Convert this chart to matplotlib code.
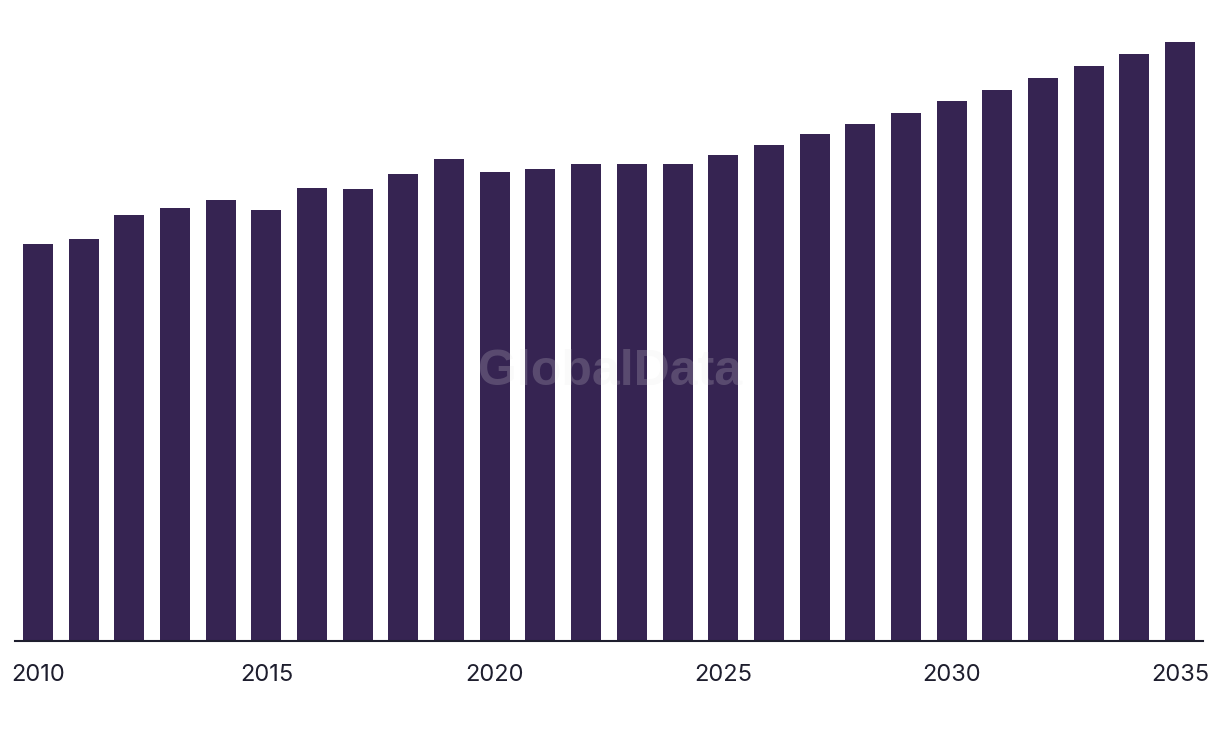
import matplotlib
matplotlib.use("Agg")
import matplotlib.pyplot as plt
import numpy as np

# values (arbitrary units, no y axis shown)
years = list(range(2010, 2036))
values = [397, 402, 426, 433, 441, 431, 453, 452, 467, 482, 469, 472, 477,
          477, 477, 486, 496, 507, 517, 528, 540, 551, 563, 575, 587, 599]
tick_years = [2010, 2015, 2020, 2025, 2030, 2035]

BAR_COLOR = "#362452"
TEXT_COLOR = "#1e1e2e"

fig = plt.figure(figsize=(12.2, 7.38), dpi=100)
ax = fig.add_axes([15 / 1220, 1 - 641 / 738, 1188 / 1220, 611 / 738])

ax.bar(years, values, width=0.657, color=BAR_COLOR, zorder=2)

ax.set_xlim(2010 - 0.5035, 2035 + 0.5035)
ax.set_ylim(0, 611)

for side in ["top", "right", "left"]:
    ax.spines[side].set_visible(False)
ax.spines["bottom"].set_color(TEXT_COLOR)
ax.spines["bottom"].set_linewidth(1.5)
ax.spines["bottom"].set_zorder(3)

ax.set_yticks([])
ax.set_xticks(tick_years)
ax.set_xticklabels([str(y) for y in tick_years], fontsize=17,
                   color=TEXT_COLOR, family=["Inter", "DejaVu Sans"])
ax.tick_params(axis="x", length=0, pad=16.5)

fig.text(0.5, 1 - 372 / 738, "GlobalData", ha="center", va="center",
         fontsize=36, fontweight="bold", family=["Liberation Sans", "DejaVu Sans"],
         color="#e6e6e6", alpha=0.2, zorder=10)

fig.savefig("out.png", dpi=100)
